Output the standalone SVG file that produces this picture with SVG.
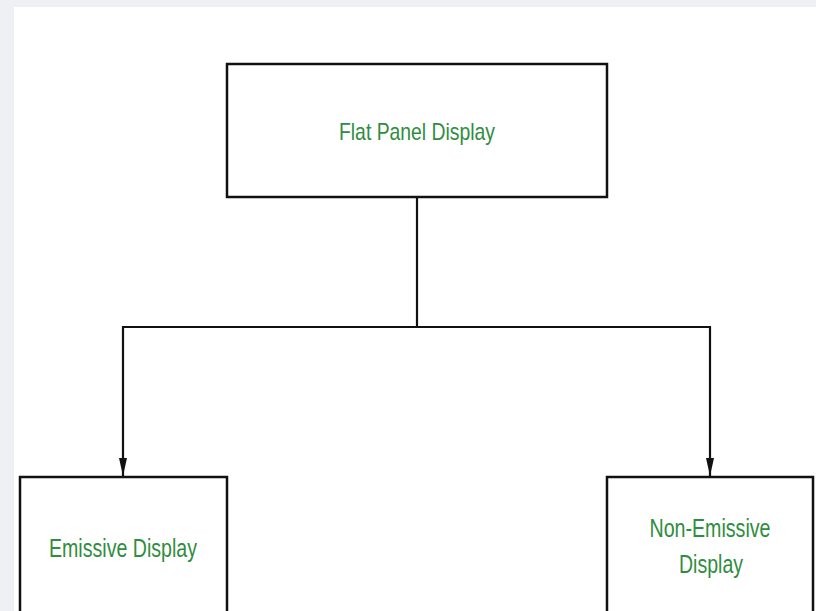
<svg xmlns="http://www.w3.org/2000/svg" width="816" height="611" viewBox="0 0 816 611">
<defs>
<style>
.box{fill:#ffffff;stroke:#111111;stroke-width:2.5}
.lbl{font-family:"Liberation Sans",Arial,sans-serif;fill:#2f8d40;text-anchor:middle}
.conn{fill:none;stroke:#111111;stroke-width:2.2}
</style>
<marker id="arr" viewBox="0 0 18 10" refX="18" refY="5" markerWidth="18" markerHeight="10" markerUnits="userSpaceOnUse" orient="auto">
<path d="M0,1 L18,5 L0,9 Z" fill="#111111"/>
</marker>
</defs>
<rect x="0" y="0" width="816" height="611" fill="#eef0f4"/>
<rect x="14" y="7" width="802" height="604" fill="#ffffff"/>
<g id="connectors">
<path class="conn" d="M417,197 V327"/>
<path class="conn" d="M123,327 H711"/>
<path class="conn" d="M123,326 V476" marker-end="url(#arr)"/>
<path class="conn" d="M710,326 V476" marker-end="url(#arr)"/>
</g>
<g id="flat-panel">
<rect class="box" x="227" y="64" width="380" height="133"/>
<text class="lbl" x="417" y="140" font-size="24" textLength="156" lengthAdjust="spacingAndGlyphs">Flat Panel Display</text>
</g>
<g id="emissive">
<rect class="box" x="20" y="477" width="207" height="150"/>
<text class="lbl" x="123" y="557" font-size="25" textLength="148" lengthAdjust="spacingAndGlyphs">Emissive Display</text>
</g>
<g id="non-emissive">
<rect class="box" x="607" y="477" width="206" height="150"/>
<text class="lbl" x="710" y="537" font-size="25" textLength="121" lengthAdjust="spacingAndGlyphs">Non-Emissive</text>
<text class="lbl" x="711" y="573" font-size="25" textLength="64" lengthAdjust="spacingAndGlyphs">Display</text>
</g>
</svg>
